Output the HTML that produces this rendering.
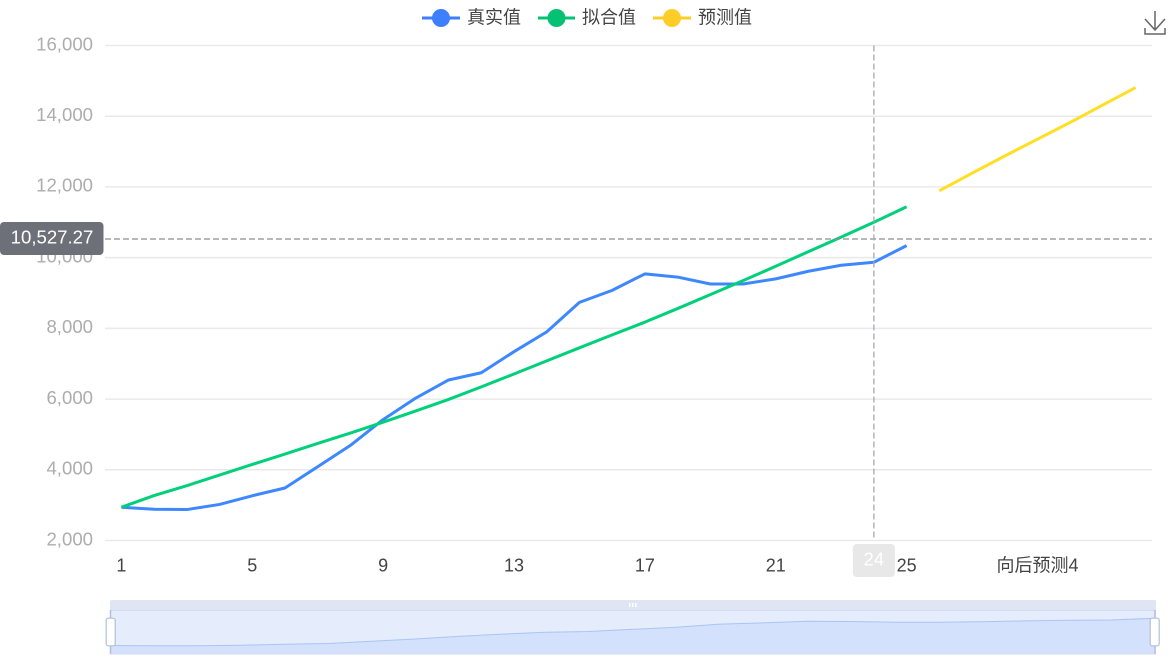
<!DOCTYPE html>
<html>
<head>
<meta charset="utf-8">
<style>
html,body{margin:0;padding:0;background:#fff;width:1173px;height:666px;overflow:hidden}
svg{display:block}
text{font-family:"Liberation Sans","Noto Sans CJK SC",sans-serif}
</style>
</head>
<body>
<svg id="chart" width="1173" height="666" viewBox="0 0 1173 666" xmlns="http://www.w3.org/2000/svg">
  <g id="grid"></g>
  <g id="yLabels"></g>
  <g id="xLabels"></g>
  <g id="series"></g>
  <g id="pointer"></g>

  <g>
    <g>
      <line x1="422" y1="18" x2="460" y2="18" stroke="#3d7fff" stroke-width="3"/>
      <circle cx="441" cy="18" r="9" fill="#3d7fff"/>
      <text x="467" y="23.5" font-size="18" fill="#444">真实值</text>
    </g>
    <g>
      <line x1="538" y1="18" x2="575" y2="18" stroke="#04c174" stroke-width="3"/>
      <circle cx="556.5" cy="18" r="9" fill="#04c174"/>
      <text x="582" y="23.5" font-size="18" fill="#444">拟合值</text>
    </g>
    <g>
      <line x1="653" y1="18" x2="691" y2="18" stroke="#ffcd27" stroke-width="3"/>
      <circle cx="672" cy="18" r="9" fill="#ffcd27"/>
      <text x="698" y="23.5" font-size="18" fill="#444">预测值</text>
    </g>
  </g>

  <g fill="none" stroke="#666" stroke-width="1.5">
    <rect x="1143" y="9" width="24" height="27" fill="#fff" fill-opacity="0" stroke="none"/>
    <path d="M1155 11V30M1145 19L1155 30L1165 19M1145 28V34H1165V28"/>
  </g>

  <g id="zoom">
    <path d="M110 610V602a2 2 0 0 1 2-2H1154a2 2 0 0 1 2 2V610Z" fill="#dfe5f3"/>
    <rect x="110" y="610" width="1046" height="44" fill="#e5edfd"/>
    <path id="miniArea" fill="#d3e1fc"/>
    <path id="miniLine" fill="none" stroke="#a9c4f5" stroke-width="1"/>
    <line x1="110" y1="610.5" x2="1156" y2="610.5" stroke="#d2dbf0" stroke-width="1"/>
    <line x1="110" y1="654" x2="1156" y2="654" stroke="#d2dbf0" stroke-width="1"/>
    <g fill="#fff">
      <rect x="629" y="603" width="1.5" height="4"/>
      <rect x="632" y="603" width="1.5" height="4"/>
      <rect x="635" y="603" width="1.5" height="4"/>
    </g>
    <line x1="110.5" y1="610" x2="110.5" y2="654" stroke="#b4bfdb" stroke-width="1.5"/>
    <line x1="1155" y1="610" x2="1155" y2="654" stroke="#b4bfdb" stroke-width="1.5"/>
    <rect x="106.2" y="618.2" width="9" height="27.6" rx="2" fill="#fff" stroke="#b4bfdb" stroke-width="1.2"/>
    <rect x="1150.2" y="618.2" width="9" height="27.6" rx="2" fill="#fff" stroke="#b4bfdb" stroke-width="1.2"/>
  </g>
</svg>
<script>
const categories = ["1","2","3","4","5","6","7","8","9","10","11","12","13","14","15","16","17","18","19","20","21","22","23","24","25","向后预测1","向后预测2","向后预测3","向后预测4","向后预测5","向后预测6","向后预测7"];
const actualValues = [2940,2885,2875,3020,3265,3485,4087,4690,5420,6030,6540,6745,7340,7900,8735,9075,9540,9450,9255,9255,9400,9615,9785,9870,10340];
const fittedValues = [2940,3270,3550,3850,4150,4445,4745,5040,5345,5665,5990,6345,6710,7080,7450,7815,8175,8560,8955,9350,9755,10170,10580,11000,11440];
const forecastValues = [null,null,null,null,null,null,null,null,null,null,null,null,null,null,null,null,null,null,null,null,null,null,null,null,null,11890,12390,12875,13350,13825,14320,14810];
const yTicks = [2000,4000,6000,8000,10000,12000,14000,16000];
const pointerValue = 10527.27;
const pointerCategory = "24";

const SVGNS = 'http://www.w3.org/2000/svg';
const plot = {left:105, right:1152, top:45.5, bottom:540.5};
const yMin = yTicks[0], yMax = yTicks[yTicks.length-1];
function xScale(i){ return plot.left + (plot.right-plot.left)/categories.length*(i+0.5); }
function yScale(v){ return plot.bottom - (v-yMin)/(yMax-yMin)*(plot.bottom-plot.top); }
function fmt(v){ return v.toLocaleString('en-US'); }
function make(tag, attrs, parent, txt){
  const el = document.createElementNS(SVGNS, tag);
  for (const k in attrs) el.setAttribute(k, attrs[k]);
  if (txt !== undefined) el.textContent = txt;
  parent.appendChild(el);
  return el;
}

const gridG = document.getElementById('grid');
const yG = document.getElementById('yLabels');
yTicks.forEach(function(t){
  const y = yScale(t);
  const ln = make('line',{x1:plot.left,x2:plot.right,y1:y,y2:y,stroke:'#e9e9e9','stroke-width':1.5},gridG);
  
  
  const tx = make('text',{x:93,y:y+4.8,'text-anchor':'end','font-size':18.6,fill:'#adadad'},yG,fmt(t));
  
  
});

const xG = document.getElementById('xLabels');
categories.forEach(function(c,i){
  if (i % 4 !== 0) return;
  const tx = make('text',{x:xScale(i),y:571.5,'text-anchor':'middle','font-size':18,fill:'#444'},xG,c);
  
  
});

function linePath(vals){
  let d = '', pen = false;
  vals.forEach(function(v,i){
    if (v === null || v === undefined){ pen = false; return; }
    d += (pen ? 'L' : 'M') + xScale(i).toFixed(2) + ' ' + yScale(v).toFixed(2);
    pen = true;
  });
  return d;
}
const seriesG = document.getElementById('series');
const s1 = make('path',{d:linePath(actualValues),fill:'none',stroke:'#3d87ff','stroke-width':3,'stroke-linejoin':'round'},seriesG);


const s2 = make('path',{d:linePath(fittedValues),fill:'none',stroke:'#00d07a','stroke-width':3,'stroke-linejoin':'round'},seriesG);


const s3 = make('path',{d:linePath(forecastValues),fill:'none',stroke:'#ffdf25','stroke-width':3,'stroke-linejoin':'round'},seriesG);



const pG = document.getElementById('pointer');
const py = yScale(pointerValue);
const px = xScale(categories.indexOf(pointerCategory));
const hLine = make('line',{x1:plot.left,x2:plot.right,y1:py,y2:py,stroke:'#8e8e8e','stroke-width':1.3,'stroke-dasharray':'6 3'},pG);


const vLine = make('line',{x1:px,x2:px,y1:plot.top,y2:plot.bottom,stroke:'#a8a8b4','stroke-width':1.3,'stroke-dasharray':'6 3'},pG);


const yBox = make('rect',{x:0,y:py-17,width:103.5,height:33,rx:4,fill:'#6e7079'},pG);


const yTxt = make('text',{x:52,y:py+4.5,'text-anchor':'middle','font-size':18.6,fill:'#fff'},pG,pointerValue.toLocaleString('en-US',{minimumFractionDigits:2,maximumFractionDigits:2}));


const xBox = make('rect',{x:px-21,y:544,width:42,height:33,rx:4,fill:'#e8e8e8'},pG);


const xTxt = make('text',{x:px,y:565.5,'text-anchor':'middle','font-size':18.6,fill:'#fff'},pG,pointerCategory);



const mini = {left:110.5, right:1155, top:610, bottom:654};
const aMin = Math.min.apply(null, actualValues), aMax = Math.max.apply(null, actualValues);
const span = aMax - aMin;
function miniX(i){ return mini.left + (mini.right-mini.left)*i/(actualValues.length-1); }
function miniY(v){ return mini.bottom - (v-(aMin-0.3*span))/(1.6*span)*(mini.bottom-mini.top); }
let miniD = '';
actualValues.forEach(function(v,i){ miniD += (i ? 'L' : 'M') + miniX(i).toFixed(2) + ' ' + miniY(v).toFixed(2); });
document.getElementById('miniLine').setAttribute('d', miniD);
document.getElementById('miniArea').setAttribute('d', miniD + 'L' + mini.right + ' ' + mini.bottom + 'L' + mini.left + ' ' + mini.bottom + 'Z');
</script>
</body>
</html>
